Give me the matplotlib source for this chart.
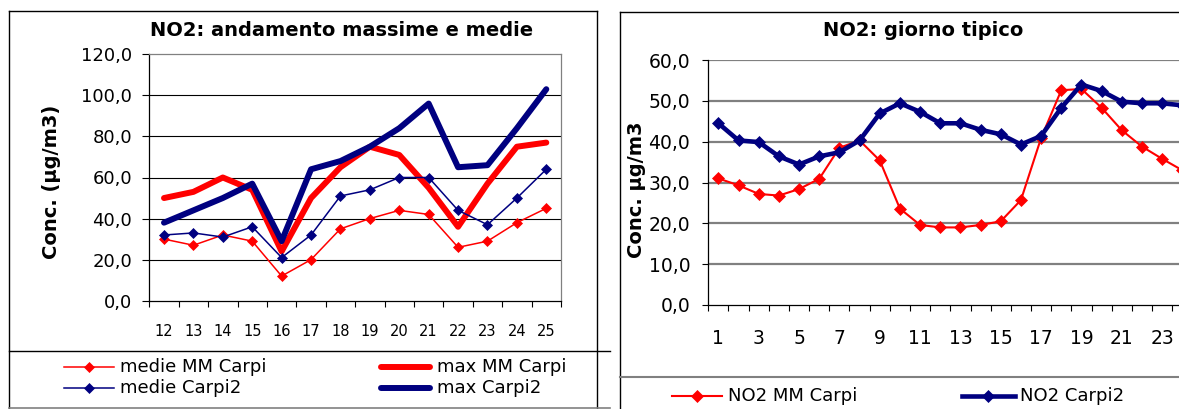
import numpy as np
import matplotlib
matplotlib.use('Agg')
import matplotlib.pyplot as plt
from matplotlib.patches import Rectangle

# --- data ---------------------------------------------------------------
days = ['12', '13', '14', '15', '16', '17', '18', '19', '20', '21', '22', '23', '24', '25']
medie_mm_carpi = [30, 27, 32, 29, 12, 20, 35, 40, 44, 42, 26, 29, 38, 45]
max_mm_carpi = [50, 53, 60, 54, 24, 50, 65, 75, 71, 55, 36, 57, 75, 77]
medie_carpi2 = [32, 33, 31, 36, 21, 32, 51, 54, 60, 60, 44, 37, 50, 64]
max_carpi2 = [38, 44, 50, 57, 29, 64, 68, 75, 84, 96, 65, 66, 84, 103]

hours = [str(h) for h in range(1, 25)]
no2_mm_carpi = [31.0, 29.3, 27.2, 26.8, 28.4, 30.9, 38.5, 40.3, 35.4, 23.6, 19.6, 19.0,
                19.0, 19.6, 20.5, 25.7, 40.9, 52.6, 52.9, 48.3, 42.8, 38.8, 35.8, 33.0]
no2_carpi2 = [44.5, 40.3, 39.9, 36.4, 34.4, 36.4, 37.4, 40.3, 46.9, 49.4, 47.3, 44.5,
              44.5, 42.9, 41.8, 39.3, 41.4, 48.3, 54.0, 52.4, 49.8, 49.4, 49.4, 48.9]

RED = '#ff0000'
NAVY = '#000080'
GRAY = '#808080'

W, H = 1179, 409
fig = plt.figure(figsize=(W / 100, H / 100), dpi=100)
fig.patch.set_facecolor('white')


def px_axes(x0, y0, x1, y1, **kw):
    # axes box given in pixel coords (origin top-left)
    return fig.add_axes([x0 / W, 1 - y1 / H, (x1 - x0) / W, (y1 - y0) / H], **kw)


def comma(v):
    return f'{v:.1f}'.replace('.', ',')


# --- left chart: andamento massime e medie --------------------------------
ax1 = px_axes(149.3, 54.3, 561, 300.7)
x1 = np.arange(len(days))
ax1.set_xlim(-0.5, len(days) - 0.5)
ax1.set_ylim(0, 120)
yt1 = np.arange(0, 121, 20)
ax1.set_yticks(yt1)
ax1.set_yticklabels([comma(v) for v in yt1], fontsize=13)
for v in yt1[1:-1]:
    ax1.axhline(v, color='black', lw=0.8, zorder=0)
ax1.set_xticks(np.arange(-0.5, len(days), 1))
ax1.set_xticklabels([])
ax1.set_xticks(x1, minor=True)
ax1.set_xticklabels(days, minor=True, fontsize=10.5,
                    family=['Liberation Sans Narrow', 'DejaVu Sans'])
ax1.tick_params(axis='y', length=5, width=0.8, pad=7.5)
ax1.tick_params(axis='x', which='major', length=4.5, width=0.8)
ax1.tick_params(axis='x', which='minor', length=0, pad=17)
for s in ['top', 'right']:
    ax1.spines[s].set_color(GRAY)
for s in ax1.spines.values():
    s.set_linewidth(0.9)

ax1.plot(x1, medie_mm_carpi, color=RED, lw=1.1, marker='D', ms=4.6, mew=0.5)
ax1.plot(x1, max_mm_carpi, color=RED, lw=4.3, solid_joinstyle='round', solid_capstyle='round')
ax1.plot(x1, medie_carpi2, color=NAVY, lw=1.1, marker='D', ms=4.6, mew=0.5)
ax1.plot(x1, max_carpi2, color=NAVY, lw=4.3, solid_joinstyle='round', solid_capstyle='round')

# --- right chart: giorno tipico ------------------------------------------
ax2 = px_axes(708.3, 60, 708.3 + 24 * 20.17, 305)
x2 = np.arange(len(hours))
ax2.set_xlim(-0.5, len(hours) - 0.5)
ax2.set_ylim(0, 60)
yt2 = np.arange(0, 61, 10)
ax2.set_yticks(yt2)
ax2.set_yticklabels([comma(v) for v in yt2], fontsize=13.5)
for v in yt2[1:]:
    ax2.axhline(v, color=GRAY, lw=1.6, zorder=0)
ax2.set_xticks(np.arange(-0.5, len(hours), 1))
ax2.set_xticklabels([])
ax2.set_xticks(x2[::2], minor=True)
ax2.set_xticklabels(hours[::2], minor=True, fontsize=13.5)
ax2.tick_params(axis='y', length=4, width=0.8, pad=9)
ax2.tick_params(axis='x', which='major', length=4.5, width=0.8)
ax2.tick_params(axis='x', which='minor', length=0, pad=17)
ax2.spines['top'].set_visible(False)
for s in ax2.spines.values():
    s.set_linewidth(0.9)

ax2.plot(x2, no2_mm_carpi, color=RED, lw=1.5, marker='D', ms=6.2, mew=0.5)
ax2.plot(x2, no2_carpi2, color=NAVY, lw=3.3, marker='D', ms=6.2, mew=0.5,
         solid_joinstyle='round')

# --- overlay: frames, titles, legends --------------------------------------
ov = fig.add_axes([0, 0, 1, 1], zorder=10)
ov.set_xlim(0, W)
ov.set_ylim(H, 0)
ov.axis('off')
ov.patch.set_alpha(0)

# left frame
ov.plot([9, 9], [11, 408], color='black', lw=1)
ov.plot([9, 597], [11, 11], color='black', lw=1)
ov.plot([597, 597], [11, 408], color='black', lw=1)
ov.plot([9, 610], [350.7, 350.7], color='black', lw=1)
ov.plot([9, 610], [407.7, 407.7], color=GRAY, lw=1.2)

# right frame (axis title "ore" mostly hidden under the legend box)
ov.text(942, 388, 'ore', ha='center', va='baseline', fontsize=13, fontweight='bold', zorder=1)
ov.add_patch(Rectangle((620.5, 377), W - 620, 40, facecolor='white', edgecolor='none', zorder=2))
ov.plot([620, 620], [11.7, 409], color='black', lw=1, zorder=3)
ov.plot([620, W], [11.7, 11.7], color='black', lw=1, zorder=3)
ov.plot([620, W], [376.7, 376.7], color=GRAY, lw=1.5, zorder=3)

# titles and axis labels
ov.text(341.5, 31, 'NO2: andamento massime e medie', ha='center', va='center',
        fontsize=14, fontweight='bold')
ov.text(923.5, 30, 'NO2: giorno tipico', ha='center', va='center',
        fontsize=14, fontweight='bold')
ov.text(51.7, 182, 'Conc. (µg/m3)', ha='center', va='center', rotation=90,
        fontsize=14, fontweight='bold')
ov.text(637, 190, 'Conc. µg/m3', ha='center', va='center', rotation=90,
        fontsize=14, fontweight='bold')

# left legend
ov.plot([64, 114], [366.7, 366.7], color=RED, lw=1.1)
ov.plot([89], [366.7], color=RED, marker='D', ms=4.6, mew=0.5)
ov.text(120, 366.7, 'medie MM Carpi', va='center', fontsize=13)
ov.plot([64, 114], [388.3, 388.3], color=NAVY, lw=1.1)
ov.plot([89], [388.3], color=NAVY, marker='D', ms=4.6, mew=0.5)
ov.text(120, 388.3, 'medie Carpi2', va='center', fontsize=13)
ov.plot([381, 430], [366.7, 366.7], color=RED, lw=4.3, solid_capstyle='round')
ov.text(436.7, 366.7, 'max MM Carpi', va='center', fontsize=13)
ov.plot([381, 430], [388.3, 388.3], color=NAVY, lw=4.3, solid_capstyle='round')
ov.text(436.7, 388.3, 'max Carpi2', va='center', fontsize=13)

# right legend
ov.plot([672, 722], [396, 396], color=RED, lw=1.5, zorder=4)
ov.plot([697], [396], color=RED, marker='D', ms=6.2, mew=0.5, zorder=4)
ov.text(728, 396, 'NO2 MM Carpi', va='center', fontsize=13, zorder=4)
ov.plot([962, 1015], [396, 396], color=NAVY, lw=3.3, zorder=4)
ov.plot([988], [396], color=NAVY, marker='D', ms=6.2, mew=0.5, zorder=4)
ov.text(1020, 396, 'NO2 Carpi2', va='center', fontsize=13, zorder=4)

fig.savefig('out.png', dpi=100)
